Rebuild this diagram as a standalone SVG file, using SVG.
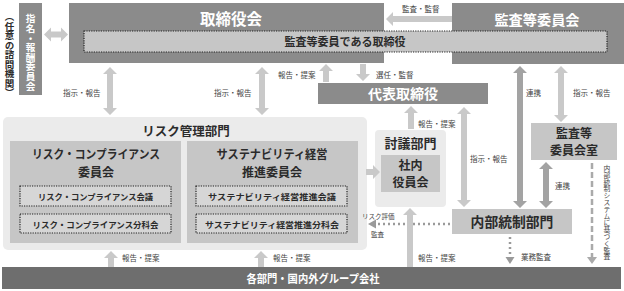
<svg xmlns="http://www.w3.org/2000/svg" width="624" height="291" viewBox="0 0 624 291">
<style>
text{font-family:"Noto Sans CJK JP","Noto Sans",sans-serif;font-weight:bold}
.dark{fill:#8b8b8b}
.bar{fill:#6e6e6e}
.mid{fill:#c6c6c6}
.cont{fill:#ebebeb}
.inner{fill:#d6d6d6;stroke:#222;stroke-width:1.2;stroke-dasharray:1.2 1.2}
.band{fill:#c6c6c6;stroke:#222;stroke-width:1.2;stroke-dasharray:1.2 1.2}
.la{fill:#c9c9c9}
.da{fill:#a3a3a3}
.w{fill:#fff}
.t{fill:#2b2b2b}
.lbl{font-size:7.5px;fill:#444;font-weight:normal}
.sm{font-size:6.5px}
.vsm{font-size:6.8px}
.dot{stroke:#9a9a9a;stroke-width:2.5;fill:none;stroke-dasharray:2 3}
.dash{stroke:#aaa;stroke-width:2.5;fill:none;stroke-dasharray:6 3}
.vt{writing-mode:vertical-rl}
</style>

<g id="advisory">
  <text class="t vt" x="9.5" y="12" font-size="9.5">（任意の諮問機関）</text>
</g>
<g id="nomination">
  <rect class="dark" x="19" y="3" width="23" height="92"/>
  <text class="w vt" x="30.5" y="14" font-size="9.6">指名・報酬委員会</text>
</g>
<g id="board">
  <rect class="dark" x="69" y="3" width="315" height="60"/>
  <text class="w" x="231" y="25" font-size="15.5" text-anchor="middle">取締役会</text>
</g>
<g id="audit-committee">
  <rect class="dark" x="452" y="3" width="172" height="61"/>
  <text class="w" x="537" y="25" font-size="14.2" text-anchor="middle">監査等委員会</text>
</g>
<g id="audit-directors">
  <rect class="band" x="84" y="31" width="523" height="21"/>
  <text class="t" x="345" y="46" font-size="11" text-anchor="middle">監査等委員である取締役</text>
</g>
<g id="representative">
  <rect class="dark" x="318" y="83" width="170" height="21"/>
  <text class="w" x="403" y="99" font-size="14" text-anchor="middle">代表取締役</text>
</g>
<g id="risk-dept">
  <rect class="cont" x="3" y="117" width="364" height="133" rx="5"/>
  <text class="t" x="186" y="136" font-size="12.5" text-anchor="middle">リスク管理部門</text>
</g>
<g id="risk-committee">
  <rect class="mid" x="10" y="141" width="171" height="102"/>
  <text class="t" x="96" y="159" font-size="12" text-anchor="middle" textLength="128" lengthAdjust="spacingAndGlyphs">リスク・コンプライアンス</text>
  <text class="t" x="96" y="176.5" font-size="12" text-anchor="middle">委員会</text>
</g>
<g id="risk-meeting">
  <rect class="inner" x="20" y="186" width="151" height="20"/>
  <text class="t" x="95.5" y="200" font-size="8.5" text-anchor="middle" textLength="115" lengthAdjust="spacingAndGlyphs">リスク・コンプライアンス会議</text>
</g>
<g id="risk-subcommittee">
  <rect class="inner" x="20" y="214" width="151" height="19"/>
  <text class="t" x="95.5" y="228" font-size="8.5" text-anchor="middle" textLength="126" lengthAdjust="spacingAndGlyphs">リスク・コンプライアンス分科会</text>
</g>
<g id="sustainability-committee">
  <rect class="mid" x="187" y="141" width="171" height="102"/>
  <text class="t" x="272" y="159" font-size="12" text-anchor="middle" textLength="111" lengthAdjust="spacingAndGlyphs">サステナビリティ経営</text>
  <text class="t" x="272" y="176.5" font-size="12" text-anchor="middle">推進委員会</text>
</g>
<g id="sustainability-meeting">
  <rect class="inner" x="196" y="186" width="151" height="20"/>
  <text class="t" x="272" y="200" font-size="8.5" text-anchor="middle" textLength="128" lengthAdjust="spacingAndGlyphs">サステナビリティ経営推進会議</text>
</g>
<g id="sustainability-subcommittee">
  <rect class="inner" x="196" y="214" width="151" height="19"/>
  <text class="t" x="272" y="228" font-size="8.5" text-anchor="middle" textLength="134" lengthAdjust="spacingAndGlyphs">サステナビリティ経営推進分科会</text>
</g>
<g id="discussion-dept">
  <rect class="cont" x="375" y="130" width="71" height="77" rx="4"/>
  <text class="t" x="410.5" y="148" font-size="13" text-anchor="middle">討議部門</text>
</g>
<g id="internal-officers">
  <rect class="mid" x="381" y="155" width="59" height="37"/>
  <text class="t" x="410.5" y="169.5" font-size="12" text-anchor="middle">社内</text>
  <text class="t" x="410.5" y="187" font-size="12" text-anchor="middle">役員会</text>
</g>
<g id="audit-office">
  <rect class="mid" x="531" y="123" width="86" height="37"/>
  <text class="t" x="574" y="137.5" font-size="12" text-anchor="middle">監査等</text>
  <text class="t" x="574" y="155" font-size="12" text-anchor="middle">委員会室</text>
</g>
<g id="internal-control">
  <rect class="mid" x="452" y="209" width="120" height="25"/>
  <text class="t" x="512" y="227" font-size="13.8" text-anchor="middle">内部統制部門</text>
</g>
<g id="group-companies">
  <rect class="bar" x="2" y="267" width="619" height="22"/>
  <text class="w" x="313" y="283" font-size="11.5" text-anchor="middle" textLength="133" lengthAdjust="spacingAndGlyphs">各部門・国内外グループ会社</text>
</g>

<g id="connectors">
  <polygon class="la" points="44,34.5 51,27.5 51,31.5 61,31.5 61,27.5 68,34.5 61,41.5 61,37.5 51,37.5 51,41.5"/>
  <polygon class="la" points="386,19 393,12 393,16 452,16 452,22 393,22 393,26"/>
  <text class="lbl" x="402" y="12">監査・監督</text>
  <polygon class="la" points="110,67 117,74 113,74 113,108 117,108 110,115 103,108 107,108 107,74 103,74"/>
  <text class="lbl" x="63" y="96">指示・報告</text>
  <polygon class="la" points="262,67 269,74 265,74 265,108 269,108 262,115 255,108 259,108 259,74 255,74"/>
  <text class="lbl" x="214" y="96">指示・報告</text>
  <polygon class="la" points="326,64 333,71 329,71 329,82 323,82 323,71 319,71"/>
  <text class="lbl" x="278" y="78">報告・提案</text>
  <polygon class="la" points="360,64 366,64 366,74 370,74 363,81 356,74 360,74"/>
  <text class="lbl" x="376" y="78">選任・監督</text>
  <polygon class="la" points="411,106 418,113 414,113 414,129 408,129 408,113 404,113"/>
  <text class="lbl" x="418" y="127">報告・提案</text>
  <polygon class="la" points="464,107 471,114 467,114 467,200 471,200 464,207 457,200 461,200 461,114 457,114"/>
  <text class="lbl" x="470" y="162">指示・報告</text>
  <polygon class="da" points="520,66 527,73 523,73 523,201 527,201 520,208 513,201 517,201 517,73 513,73"/>
  <text class="lbl" x="526" y="96">連携</text>
  <polygon class="la" points="561,66 568,73 564,73 564,115 568,115 561,122 554,115 558,115 558,73 554,73"/>
  <text class="lbl" x="573" y="96">指示・報告</text>
  <polygon class="da" points="546,162 553,169 549,169 549,201 553,201 546,208 539,201 543,201 543,169 539,169"/>
  <text class="lbl" x="555" y="189">連携</text>
  <polygon class="la" points="366,169 373,169 373,165 380,172 373,179 373,175 366,175"/>
  <line class="dot" x1="450" y1="224" x2="377" y2="224"/>
  <polygon fill="#9a9a9a" points="368,224 376,219.5 376,228.5"/>
  <text class="lbl sm" x="362" y="219">リスク評価</text>
  <text class="lbl sm" x="371" y="237">監査</text>
  <line class="dot" x1="510" y1="237" x2="510" y2="257"/>
  <polygon fill="#9a9a9a" points="505.5,257 514.5,257 510,264"/>
  <text class="lbl" x="521" y="260">業務監査</text>
  <line class="dash" x1="592" y1="163" x2="592" y2="257"/>
  <polygon fill="#aaa" points="587,257 597,257 592,264"/>
  <text class="lbl vsm vt" x="607" y="165">内部統制システムに基づく監査</text>
  <polygon class="la" points="410,208 417,215 413,215 413,267 407,267 407,215 403,215"/>
  <text class="lbl" x="418" y="261">報告・提案</text>
  <polygon class="la" points="111,251 118,258 114,258 114,267 108,267 108,258 104,258"/>
  <text class="lbl" x="122" y="261">報告・提案</text>
  <polygon class="la" points="261,251 268,258 264,258 264,267 258,267 258,258 254,258"/>
  <text class="lbl" x="273" y="261">報告・提案</text>
</g>
</svg>
